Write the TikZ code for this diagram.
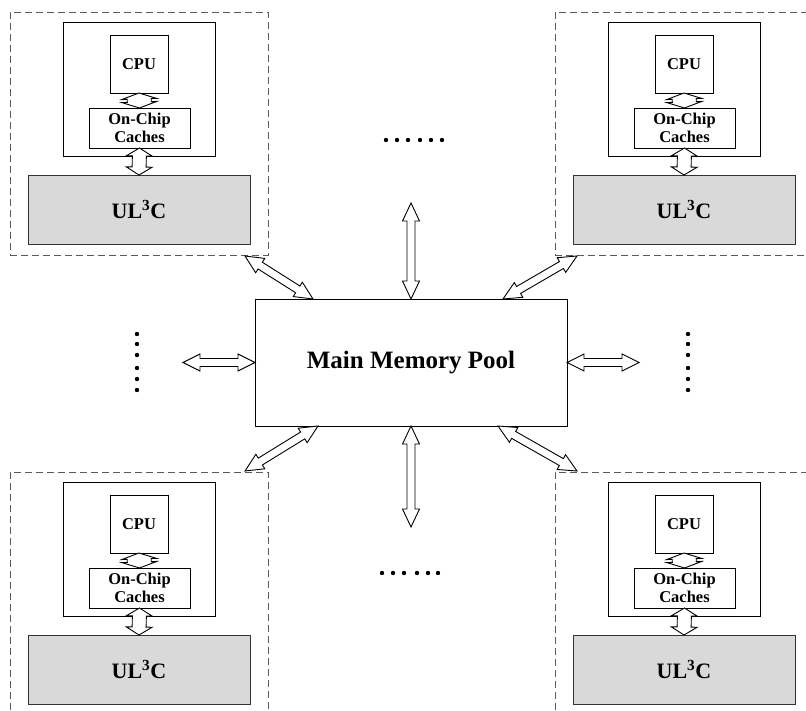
\documentclass[tikz,border=0pt]{standalone}
\usepackage{fontspec}
\setmainfont{Liberation Serif}
\usetikzlibrary{calc}
\definecolor{boxgray}{HTML}{D9D9D9}
\definecolor{dashgray}{HTML}{5A5A5A}
\tikzset{
  every node/.style={inner sep=0pt, outer sep=0pt},
  dashbox/.style={rectangle, draw=dashgray, line width=0.8pt, dash pattern=on 7pt off 4pt},
  plainbox/.style={rectangle, draw=black, line width=0.8pt, fill=white},
  ulbox/.style={rectangle, draw=black!80, line width=0.8pt, fill=boxgray},
  arrowline/.style={draw=black, line width=0.9pt, fill=white, line join=miter},
  dotmark/.style={circle, fill=black, minimum size=4.4pt},
  smalltext/.style={font=\fontsize{16.5}{18.5}\selectfont\bfseries, align=center},
  bigtext/.style={font=\fontsize{22}{26}\selectfont\bfseries},
  memtext/.style={font=\fontsize{25}{30}\selectfont\bfseries},
}
% hollow double-headed block arrow between two points:
% #1 from, #2 to, #3 half head width, #4 half shaft width, #5 head length
\newcommand\blockarrow[5]{%
  \path ($(#1)!#5!(#2)$) coordinate (ba-a) ($(#2)!#5!(#1)$) coordinate (ba-b);
  \draw[arrowline] (#1) -- ($(ba-a)!#3!90:(#2)$) -- ($(ba-a)!#4!90:(#2)$)
    -- ($(ba-b)!#4!-90:(#1)$) -- ($(ba-b)!#3!-90:(#1)$) -- (#2)
    -- ($(ba-b)!#3!90:(#1)$) -- ($(ba-b)!#4!90:(#1)$)
    -- ($(ba-a)!#4!-90:(#2)$) -- ($(ba-a)!#3!-90:(#2)$) -- cycle;}
\begin{document}
\begin{tikzpicture}[x=1pt,y=-1pt]
\clip (0,0) rectangle (806,711);
\fill[white] (0,0) rectangle (806,711);

% the four processor modules
\foreach \m/\dx/\dy in {tl/0/0, tr/545/0, bl/0/460, br/545/460}{
  \begin{scope}[shift={(\dx,\dy)}]
    \node[dashbox, minimum width=258pt, minimum height=243pt] (\m-dash) at (139,133.5) {};
    \node[plainbox, minimum width=152pt, minimum height=134pt] (\m-chip) at (139,89) {};
    \node[plainbox, minimum width=58pt, minimum height=58pt, smalltext] (\m-cpu) at (139,64) {CPU};
    \node[plainbox, minimum width=101pt, minimum height=40pt, smalltext] (\m-cache) at (139.5,128) {On-Chip\\[-1pt]Caches};
    \node[ulbox, minimum width=222pt, minimum height=69pt, bigtext] (\m-ul) at (139,209.5) {UL\textsuperscript{3}C};
    \blockarrow{\m-cpu.south}{\m-cache.north}{17.5pt}{12pt}{6pt}
    \blockarrow{\m-cache.south}{\m-ul.north}{13pt}{7pt}{8pt}
  \end{scope}
}

% shared memory
\node[plainbox, minimum width=312pt, minimum height=127pt, memtext] (mem) at (411,362.5) {Main Memory Pool};

% free ends of the memory links
\coordinate (up-end) at (411,203);
\coordinate (down-end) at (411,527);
\coordinate (left-end) at (183,362.5);
\coordinate (right-end) at (639,362.5);
\coordinate (tl-end) at (245,256);
\coordinate (tr-end) at (577,256);
\coordinate (bl-end) at (245,471);
\coordinate (br-end) at (577,471);
\coordinate (mem-tl) at ($(mem.north west)+(58,0)$);
\coordinate (mem-tr) at ($(mem.north west)+(248,0)$);
\coordinate (mem-bl) at ($(mem.south west)+(63,0)$);
\coordinate (mem-br) at ($(mem.south west)+(243,0)$);

\blockarrow{up-end}{mem.north}{8.5pt}{4pt}{18pt}
\blockarrow{mem.south}{down-end}{8.5pt}{4pt}{18pt}
\blockarrow{left-end}{mem.west}{8.5pt}{4pt}{17pt}
\blockarrow{mem.east}{right-end}{8.5pt}{4pt}{17pt}
\blockarrow{tl-end}{mem-tl}{8.5pt}{4pt}{18pt}
\blockarrow{mem-tr}{tr-end}{8.5pt}{4pt}{18pt}
\blockarrow{mem-bl}{bl-end}{8.5pt}{4pt}{18pt}
\blockarrow{mem-br}{br-end}{8.5pt}{4pt}{18pt}

% ellipsis dots
\foreach \x [count=\i] in {386,397,408,420,431,442}{
  \node[dotmark] (dtop\i) at (\x,140) {};
}
\foreach \x [count=\i] in {382,393,404,417,428,438}{
  \node[dotmark] (dbot\i) at (\x,573) {};
}
\foreach \y [count=\i] in {334,344,355,368,379,390}{
  \node[dotmark] (dleft\i) at (137,\y) {};
  \node[dotmark] (dright\i) at (688,\y) {};
}
\end{tikzpicture}
\end{document}
